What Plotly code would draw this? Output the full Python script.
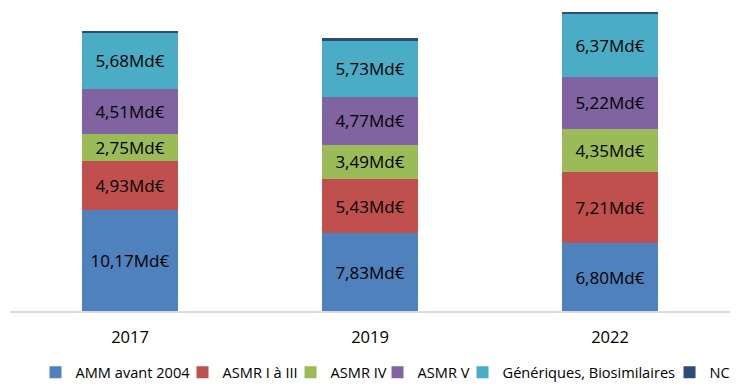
import plotly.graph_objects as go

years = ["2017", "2019", "2022"]
series_names = ["AMM avant 2004", "ASMR I à III", "ASMR IV", "ASMR V", "Génériques, Biosimilaires", "NC"]
amm = [10.17, 7.83, 6.80]
asmr_1_3 = [4.93, 5.43, 7.21]
asmr_4 = [2.75, 3.49, 4.35]
asmr_5 = [4.51, 4.77, 5.22]
generiques = [5.68, 5.73, 6.37]
nc = [0.12, 0.18, 0.05]

values = [amm, asmr_1_3, asmr_4, asmr_5, generiques, nc]
colors = ["#4F81BD", "#C0504D", "#9BBB59", "#8064A2", "#4BACC6", "#2C4D75"]
legend_widths = [102, 63, 42, 40, 162, 26]

FONT = "Open Sans"

fig = go.Figure()
for name, vals, col, lw in zip(series_names, values, colors, legend_widths):
    show_text = name != "NC"
    fig.add_trace(go.Bar(
        x=years, y=vals, name=name,
        marker=dict(color=col, line=dict(width=0)),
        text=[f"{v:.2f}".replace(".", ",") + "Md€" for v in vals] if show_text else None,
        textposition="inside" if show_text else "none",
        insidetextanchor="middle",
        constraintext="none",
        textangle=0,
        textfont=dict(family=FONT, size=17, color="#000000"),
        legendwidth=lw,
        hoverinfo="skip",
    ))

fig.update_layout(
    barmode="stack",
    bargap=0.6,
    width=740, height=385,
    margin=dict(l=10, r=10, t=2, b=74, autoexpand=False),
    paper_bgcolor="white",
    plot_bgcolor="white",
    font=dict(family=FONT, size=16.5, color="#000000"),
    uniformtext=dict(mode=False),
    showlegend=True,
    legend=dict(
        orientation="h",
        xref="container", yref="container",
        x=0.048, y=0.033,
        xanchor="left", yanchor="middle",
        font=dict(family=FONT, size=14.6, color="#000000"),
        traceorder="normal",
        itemclick=False,
    ),
    xaxis=dict(
        showline=True, linecolor="#D9D9D9", linewidth=2,
        showgrid=False, ticks="",
        ticklabelstandoff=10,
        tickfont=dict(family=FONT, size=16.5, color="#000000"),
        fixedrange=True,
    ),
    yaxis=dict(
        range=[0, 31.1], visible=False, showgrid=False, fixedrange=True,
    ),
)

fig.write_html("out.html", config={"displayModeBar": False},
               post_script="document.body.style.margin='0px';")
